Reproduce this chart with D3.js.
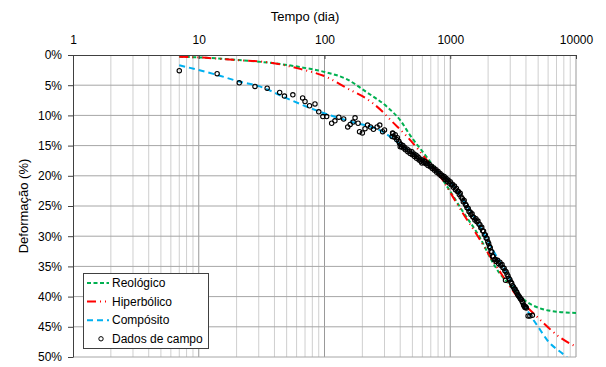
<!DOCTYPE html>
<html>
<head>
<meta charset="utf-8">
<script src="https://cdn.jsdelivr.net/npm/d3@7"></script>
<style>
    body { margin: 0; background: #fff; }
    text { font-family: "Liberation Sans", Arial, sans-serif; fill: #000; }
</style>
</head>
<body>
<svg id="chart" width="606" height="367"></svg>
<script>
// tempo (dia) x deformação (%)
var xTicks = [1, 10, 100, 1000, 10000];
var yTicks = [0, 5, 10, 15, 20, 25, 30, 35, 40, 45, 50];

var reologico = [[7, 0.3], [10, 0.4], [20, 0.8], [30, 1.1], [64, 2.0], [100, 2.8], [150, 4.0],
    [218, 6.2], [315, 8.6], [400, 10.8], [480, 13.3], [650, 16.9], [960, 22.0], [1240, 25.7],
    [1740, 30.4], [2170, 34.3], [2500, 36.3], [2960, 38.0], [4080, 40.9], [5100, 41.9],
    [7000, 42.5], [10000, 42.7]];

var hiperbolico = [[7, 0.3], [10, 0.4], [18.7, 0.8], [35, 1.2], [64, 2.3], [97, 3.4], [168, 6.0],
    [200, 6.8], [290, 9.4], [333, 10.7], [453, 13.5], [700, 18.2], [870, 20.7], [1030, 23.2],
    [1260, 26.2], [1600, 29.5], [2040, 33.1], [2600, 36.5], [3500, 40.3], [4560, 42.7],
    [5400, 44.2], [7400, 46.7], [10000, 48.3]];

var composito = [[7, 1.7], [14, 3.3], [21, 4.4], [30.5, 5.2], [47, 6.9], [56, 7.6], [92, 9.4],
    [160, 11.0], [290, 12.7], [400, 14.8], [525, 16.5], [730, 18.8], [1000, 21.0], [1360, 25.0],
    [1740, 28.5], [2140, 32.0], [2800, 36.0], [3400, 39.3], [4160, 42.5], [5000, 45.0],
    [5900, 47.2], [8200, 49.8], [9000, 50.6]];

var dadosCampo = [[7, 2.6], [14, 3.1], [21, 4.6], [28, 5.2], [35, 5.5], [44, 6.2], [48, 6.8],
    [56, 6.6], [67, 7.1], [70, 7.7], [76, 8.4], [84, 8.1], [90, 9.4], [97, 10.2], [104, 10.2],
    [114, 11.3], [121, 10.9], [130, 10.3], [142, 10.6], [153, 11.9], [160, 11.5], [169, 11.1],
    [175, 10.4], [185, 11.3], [190, 12.7], [200, 12.9], [210, 12.2], [220, 11.6], [232, 11.9],
    [245, 12.3], [262, 11.9], [275, 11.6], [290, 12.7], [300, 12.4], [345, 13.5], [348, 12.9],
    [350, 13.0], [360, 13.6], [365, 13.2], [375, 14.0], [380, 13.7], [390, 14.3], [395, 14.6],
    [400, 15.2], [405, 14.8], [410, 15.2], [420, 15.0], [425, 15.4], [435, 15.3], [440, 15.7],
    [455, 15.6], [460, 16.0], [475, 15.9], [480, 16.3], [495, 16.0], [500, 16.5], [515, 16.4],
    [520, 16.8], [535, 16.6], [540, 17.1], [555, 16.9], [565, 17.4], [575, 17.2], [585, 17.6],
    [595, 17.9], [600, 17.4], [615, 17.8], [625, 17.6], [640, 18.0], [655, 17.9], [665, 18.3],
    [680, 18.1], [695, 18.5], [710, 18.4], [720, 18.8], [740, 18.7], [750, 19.1], [770, 19.0],
    [780, 19.4], [800, 19.3], [815, 19.7], [830, 19.6], [845, 20.0], [860, 19.9], [880, 20.3],
    [895, 20.1], [910, 20.6], [925, 20.4], [945, 20.9], [960, 20.7], [980, 21.2], [1000, 21.0],
    [1020, 21.5], [1040, 21.4], [1060, 21.9], [1080, 21.7], [1100, 22.3], [1120, 22.1],
    [1140, 22.6], [1160, 22.6], [1180, 23.1], [1200, 22.9], [1220, 23.5], [1250, 23.8],
    [1270, 24.3], [1290, 24.1], [1320, 24.7], [1340, 24.9], [1360, 25.3], [1390, 25.4],
    [1410, 25.9], [1440, 26.0], [1460, 26.4], [1490, 26.3], [1510, 26.8], [1540, 26.9],
    [1570, 27.3], [1600, 27.1], [1630, 27.6], [1660, 27.5], [1690, 28.0], [1720, 28.1],
    [1750, 28.6], [1780, 28.5], [1810, 29.1], [1840, 29.2], [1870, 29.7], [1900, 29.8],
    [1930, 30.3], [1960, 30.4], [1990, 30.9], [2020, 31.2], [2050, 31.7], [2080, 31.9],
    [2110, 32.5], [2140, 32.6], [2170, 33.3], [2200, 33.4], [2240, 33.9], [2280, 33.8],
    [2320, 34.2], [2380, 34.0], [2420, 34.5], [2480, 34.3], [2520, 34.8], [2580, 34.7],
    [2620, 35.2], [2680, 35.3], [2720, 35.7], [2750, 37.3], [2780, 35.9], [2830, 36.3],
    [2880, 36.6], [2930, 37.0], [2980, 37.2], [3030, 37.6], [3080, 37.8], [3130, 38.2],
    [3180, 38.4], [3230, 38.7], [3280, 38.8], [3330, 39.1], [3380, 39.3], [3430, 39.6],
    [3480, 39.8], [3530, 40.0], [3580, 40.2], [3630, 40.4], [3680, 40.5], [3730, 40.8],
    [3780, 41.0], [3830, 41.4], [3880, 41.6], [3930, 41.8], [3980, 41.7], [4030, 41.9],
    [4160, 43.2], [4300, 43.2], [4500, 43.1]];

var margin = {top: 55, right: 30, bottom: 10, left: 73};
var svg = d3.select("#chart");
var width = 606 - margin.left - margin.right;
var height = 367 - margin.top - margin.bottom;
var g = svg.append("g").attr("transform", "translate(" + margin.left + "," + margin.top + ")");

var x = d3.scaleLog().domain([1, 10000]).range([0, width]);
var y = d3.scaleLinear().domain([0, 50]).range([0, height]);

svg.append("defs").append("clipPath").attr("id", "plotClip")
    .append("rect").attr("width", width).attr("height", height);

// grelha vertical (menores e décadas)
var minor = [];
for (var dec = 1; dec < 10000; dec *= 10) {
    for (var m = 2; m <= 9; m++) minor.push(dec * m);
}
g.append("g").selectAll("line").data(minor).enter().append("line")
    .attr("x1", d => x(d)).attr("x2", d => x(d))
    .attr("y1", 0).attr("y2", height)
    .attr("stroke", "#cfcfcf").attr("stroke-width", 1);

g.append("g").selectAll("line").data(xTicks.slice(1)).enter().append("line")
    .attr("x1", d => x(d)).attr("x2", d => x(d))
    .attr("y1", 0).attr("y2", height)
    .attr("stroke", "#999").attr("stroke-width", 1);

g.append("g").selectAll("line").data(yTicks.slice(1)).enter().append("line")
    .attr("x1", 0).attr("x2", width)
    .attr("y1", d => y(d)).attr("y2", d => y(d))
    .attr("stroke", "#a6a6a6").attr("stroke-width", 1);

// curvas
var line = d3.line()
    .x(d => x(d[0]))
    .y(d => y(d[1]))
    .curve(d3.curveMonotoneX);

var series = [
    {name: "Reológico", data: reologico, color: "#00b050", dash: "4,2.5"},
    {name: "Hiperbólico", data: hiperbolico, color: "#ff0000", dash: "9,4,1,4,1,4"},
    {name: "Compósito", data: composito, color: "#00b0f0", dash: "6,4"}
];

var curves = g.append("g").attr("clip-path", "url(#plotClip)");
series.forEach(function (s) {
    curves.append("path")
        .datum(s.data)
        .attr("fill", "none")
        .attr("stroke", s.color)
        .attr("stroke-width", 2)
        .attr("stroke-dasharray", s.dash)
        .attr("d", line);
});

g.append("g").selectAll("circle").data(dadosCampo).enter().append("circle")
    .attr("cx", d => x(d[0]))
    .attr("cy", d => y(d[1]))
    .attr("r", 2.2)
    .attr("fill", "none")
    .attr("stroke", "#000")
    .attr("stroke-width", 1.1);

// eixos
var xAxis = g.append("g")
    .call(d3.axisTop(x).tickValues(xTicks).tickFormat(d3.format("d"))
        .tickSizeInner(-4).tickSizeOuter(0).tickPadding(11.5));
xAxis.selectAll("text").style("font-size", "12px");

var yAxis = g.append("g")
    .call(d3.axisLeft(y).tickValues(yTicks).tickFormat(d => d + "%")
        .tickSizeInner(5).tickSizeOuter(0).tickPadding(6));
yAxis.selectAll("text").style("font-size", "12px");

[xAxis, yAxis].forEach(function (a) {
    a.select(".domain").attr("stroke", "#404040");
    a.selectAll(".tick line").attr("stroke", "#404040");
});

svg.append("text")
    .attr("x", 305).attr("y", 21)
    .attr("text-anchor", "middle")
    .style("font-size", "13px")
    .text("Tempo (dia)");

svg.append("text")
    .attr("transform", "translate(28," + (margin.top + height / 2) + ") rotate(-90)")
    .attr("text-anchor", "middle")
    .style("font-size", "13px")
    .text("Deformação (%)");

// legenda
var legend = svg.append("g").attr("transform", "translate(83,273)");
legend.append("rect")
    .attr("x", 0.5).attr("y", 0.5)
    .attr("width", 125).attr("height", 75)
    .attr("fill", "#fff").attr("stroke", "#404040");

var legendRows = series.concat([{name: "Dados de campo"}]);
var row = legend.selectAll("g.row").data(legendRows).enter().append("g")
    .attr("transform", (d, i) => "translate(0," + (10 + i * 18.6) + ")");

row.filter(d => d.color).append("line")
    .attr("x1", 4).attr("x2", 26)
    .attr("stroke", d => d.color)
    .attr("stroke-width", 2)
    .attr("stroke-dasharray", d => d.dash);

row.filter(d => !d.color).append("circle")
    .attr("cx", 18).attr("r", 2.2)
    .attr("fill", "none").attr("stroke", "#000");

row.append("text")
    .attr("x", 29).attr("dy", "0.35em")
    .style("font-size", "12px")
    .text(d => d.name);
</script>
</body>
</html>
